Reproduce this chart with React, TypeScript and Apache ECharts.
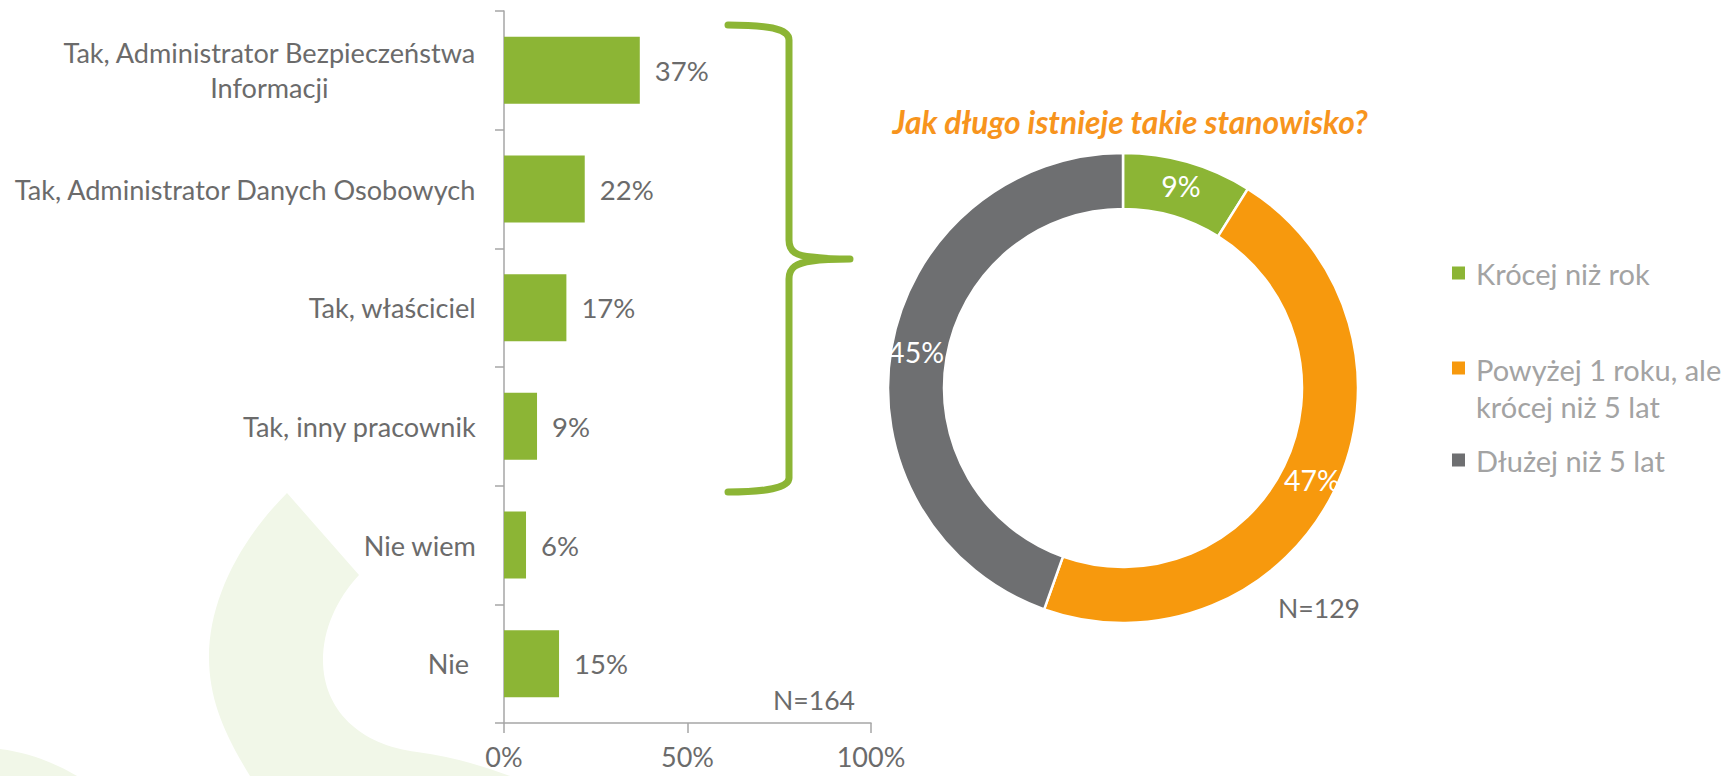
import React, { useEffect, useRef } from "react";
import * as echarts from "echarts";

// ---------- data ----------
const categories = [
  "Tak, Administrator Bezpieczeństwa\nInformacji",
  "Tak, Administrator Danych Osobowych",
  "Tak, właściciel",
  "Tak, inny pracownik",
  "Nie wiem",
  "Nie ",
];
const barValues = [37, 22, 17, 9, 6, 15];
const barNote = "N=164";

const pieTitle = "Jak długo istnieje takie stanowisko?";
const durationNames = [
  "Krócej niż rok",
  "Powyżej 1 roku, ale krócej niż 5 lat",
  "Dłużej niż 5 lat",
];
const durationValues = [9, 47, 45];
const pieNote = "N=129";

// ---------- styles ----------
const GREEN = "#8cb535";
const ORANGE = "#f7990d";
const GREY = "#6e6f71";
const TEXT = "#6b6b6b";
const LEGEND_TEXT = "#a3a3a3";
const AXIS = "#a6a6a6";
const TITLE = "#f7941d";
const WATERMARK = "#f1f7e8";
const FONT = "Lato";

function fitSize(text: string, target: number, weight = "normal", style = "normal") {
  const ctx = document.createElement("canvas").getContext("2d");
  if (!ctx) return 28;
  ctx.font = `${style} ${weight} 100px ${FONT}`;
  const w = ctx.measureText(text).width;
  return Math.round((1000 * target) / w) / 10;
}

const BRACE =
  "M728,25 C765,25 789,28 789,40 L789,240 C789,252 797,256 812,257 C825,259 838,259 850,259 " +
  "M850,259 C838,259 825,259 812,261 C797,263 789,267 789,279 L789,478 C789,488 765,492 728,492";
const BG_A =
  "M287,493 L359,575 C336,600 323,630 323,660 C323,710 360,745 417,752 C450,756 480,765 510,776 " +
  "L250,776 C225,735 209,700 209,657 C209,600 240,540 287,493 Z";
const BG_B = "M0,749 C30,753 55,763 77,776 L0,776 Z";

let registered = false;
function registerShapes() {
  if (registered) return;
  registered = true;
  echarts.graphic.registerShape("braceShape", echarts.graphic.extendPath(BRACE, {}));
  echarts.graphic.registerShape("bgShapeA", echarts.graphic.extendPath(BG_A, {}));
  echarts.graphic.registerShape("bgShapeB", echarts.graphic.extendPath(BG_B, {}));
}

const ICON_ONE = "path://M0,0L13,0L13,13L0,13Z M19,13L19,13.001Z";
const ICON_TWO = "path://M0,0L13,0L13,13L0,13Z M19,53L19,53.001Z";

export default function App() {
  const ref = useRef<HTMLDivElement>(null);

  useEffect(() => {
    document.body.style.margin = "0";
    if (!ref.current) return;
    registerShapes();
    const chart = echarts.init(ref.current, undefined, { renderer: "svg" });

    const catSize = fitSize("Tak, Administrator Danych Osobowych", 462);
    const valSize = fitSize("37%", 54);
    const axisSize = fitSize("50%", 53);
    const noteSize = fitSize("N=164", 82);
    const legSize = fitSize("Krócej niż rok", 174);
    const titleSize = fitSize(pieTitle, 475, "bold", "italic");
    const pieLblSize = fitSize("45%", 56);

    const legendBase = {
      orient: "vertical" as const,
      left: 1452,
      padding: 0,
      itemWidth: 19,
      selectedMode: false,
      itemStyle: { borderWidth: 0 },
      textStyle: { color: LEGEND_TEXT, fontSize: legSize, fontFamily: FONT, lineHeight: 36 },
    };

    const option: any = {
      animation: false,
      textStyle: { fontFamily: FONT },
      grid: { left: 504, top: 11, width: 367, height: 712, containLabel: false },
      xAxis: {
        type: "value",
        min: 0,
        max: 100,
        interval: 50,
        axisLine: { show: true, lineStyle: { color: AXIS, width: 1.5 } },
        axisTick: { show: true, length: 10, lineStyle: { color: AXIS, width: 1.5 } },
        splitLine: { show: false },
        axisLabel: {
          formatter: "{value}%",
          color: TEXT,
          fontSize: axisSize,
          fontFamily: FONT,
          margin: 20,
        },
      },
      yAxis: {
        type: "category",
        inverse: true,
        data: categories,
        axisLine: { show: true, lineStyle: { color: AXIS, width: 1.5 } },
        axisTick: { show: true, length: 9, lineStyle: { color: AXIS, width: 1.5 } },
        axisLabel: {
          margin: 28,
          align: "right",
          formatter: (v: string) =>
            v
              .split("\n")
              .map((s) => `{c|${s}}`)
              .join("\n"),
          rich: {
            c: {
              align: "center",
              color: TEXT,
              fontSize: catSize,
              fontFamily: FONT,
              lineHeight: 35,
            },
          },
        },
      },
      legend: [
        { ...legendBase, top: 255, itemHeight: 13, data: [{ name: durationNames[0], icon: ICON_ONE }] },
        {
          ...legendBase,
          top: 351,
          itemHeight: 53,
          data: [{ name: durationNames[1], icon: ICON_TWO }],
          formatter: (n: string) => n.replace(", ale ", ", ale\n"),
          textStyle: { ...legendBase.textStyle, lineHeight: 37 },
        },
        { ...legendBase, top: 442, itemHeight: 13, data: [{ name: durationNames[2], icon: ICON_ONE }] },
      ],
      series: [
        {
          type: "bar",
          data: barValues,
          barWidth: 67,
          itemStyle: { color: GREEN },
          label: {
            show: true,
            position: "right",
            distance: 15,
            formatter: "{c}%",
            color: TEXT,
            fontSize: valSize,
            fontFamily: FONT,
          },
          emphasis: { disabled: true },
          z: 3,
        },
        {
          type: "pie",
          center: [1123, 388],
          radius: [179, 235],
          startAngle: 90,
          clockwise: true,
          avoidLabelOverlap: false,
          itemStyle: { borderColor: "#ffffff", borderWidth: 2.5 },
          label: {
            show: true,
            position: "inside",
            formatter: "{c}%",
            color: "#ffffff",
            fontSize: pieLblSize,
            fontFamily: FONT,
          },
          labelLine: { show: false },
          emphasis: { disabled: true },
          data: durationNames.map((name, i) => ({
            name,
            value: durationValues[i],
            itemStyle: { color: [GREEN, ORANGE, GREY][i] },
          })),
          z: 3,
        },
      ],
      graphic: [
        { type: "bgShapeA", x: 0, y: 0, z: -10, silent: true, style: { fill: WATERMARK } },
        { type: "bgShapeB", x: 0, y: 0, z: -10, silent: true, style: { fill: WATERMARK } },
        {
          type: "braceShape",
          x: 0,
          y: 0,
          z: 5,
          silent: true,
          style: { fill: "none", stroke: GREEN, lineWidth: 7, lineCap: "round", lineJoin: "round" },
        },
        {
          type: "text",
          x: 1130,
          y: 122,
          z: 5,
          style: {
            text: pieTitle,
            fill: TITLE,
            fontSize: titleSize,
            fontWeight: "bold",
            fontStyle: "italic",
            fontFamily: FONT,
            align: "center",
            verticalAlign: "middle",
          },
        },
        {
          type: "text",
          x: 814,
          y: 700,
          z: 5,
          style: {
            text: barNote,
            fill: TEXT,
            fontSize: noteSize,
            fontFamily: FONT,
            align: "center",
            verticalAlign: "middle",
          },
        },
        {
          type: "text",
          x: 1319,
          y: 608,
          z: 5,
          style: {
            text: pieNote,
            fill: TEXT,
            fontSize: noteSize,
            fontFamily: FONT,
            align: "center",
            verticalAlign: "middle",
          },
        },
      ],
    };

    chart.setOption(option);
    return () => chart.dispose();
  }, []);

  return <div ref={ref} style={{ width: 1727, height: 776 }} />;
}
